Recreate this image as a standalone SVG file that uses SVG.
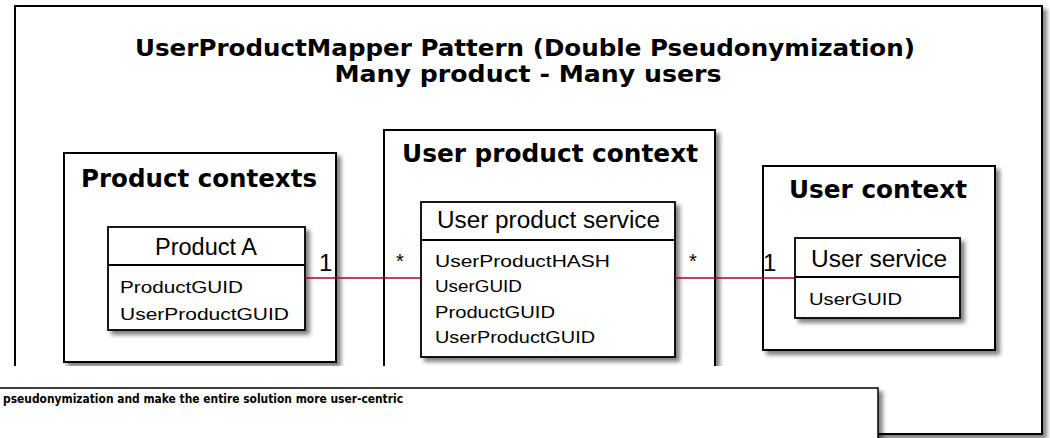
<svg xmlns="http://www.w3.org/2000/svg" width="1050" height="438" viewBox="0 0 1050 438">
<defs>
<filter id="sh" x="-5%" y="-5%" width="115%" height="120%">
<feGaussianBlur in="SourceAlpha" stdDeviation="2.2"/>
<feOffset dx="4" dy="4" result="b"/>
<feComponentTransfer><feFuncA type="linear" slope="0.5"/></feComponentTransfer>
<feMerge><feMergeNode/><feMergeNode in="SourceGraphic"/></feMerge>
</filter>
<style>
.frame{fill:#fff;stroke:#000;stroke-width:2}
.cls{fill:#fff;stroke:#000;stroke-width:1.8}
.sep{stroke:#000;stroke-width:1.8}
.title{font-family:"DejaVu Sans Condensed","DejaVu Sans",sans-serif;font-weight:bold;font-size:23px;fill:#000}
.ctx{font-family:"DejaVu Sans",sans-serif;font-weight:bold;font-size:24px;fill:#000}
.cname{font-family:"Liberation Sans",Arial,sans-serif;font-size:23px;fill:#000}
.attr{font-family:"Liberation Sans",Arial,sans-serif;font-size:17px;fill:#000}
.mult{font-family:"Liberation Sans",Arial,sans-serif;font-size:24px;fill:#000}
.star{font-family:"Liberation Sans",Arial,sans-serif;font-size:20px;fill:#000}
.link{stroke:#A80036;stroke-width:1.3;fill:none}
.note{font-family:"DejaVu Sans Condensed","DejaVu Sans",sans-serif;font-weight:bold;font-size:13px;fill:#000}
</style>
</defs>

<g id="diagram-frame">
<rect class="frame" x="15" y="6" width="1027" height="428" filter="url(#sh)"/>
<text class="title" x="525" y="56" text-anchor="middle" textLength="780" lengthAdjust="spacingAndGlyphs">UserProductMapper Pattern (Double Pseudonymization)</text>
<text class="title" x="528" y="82" text-anchor="middle" textLength="387" lengthAdjust="spacingAndGlyphs">Many product - Many users</text>
</g>

<g id="product-contexts">
<rect class="frame" x="64" y="153" width="272" height="209" filter="url(#sh)"/>
<text class="ctx" x="81" y="187" textLength="236" lengthAdjust="spacingAndGlyphs">Product contexts</text>
</g>

<g id="user-product-context">
<rect class="frame" x="384" y="130" width="331" height="260" filter="url(#sh)"/>
<text class="ctx" x="402" y="162" textLength="296" lengthAdjust="spacingAndGlyphs">User product context</text>
</g>

<g id="user-context">
<rect class="frame" x="763" y="166" width="232" height="184" filter="url(#sh)"/>
<text class="ctx" x="789" y="198" textLength="178" lengthAdjust="spacingAndGlyphs">User context</text>
</g>

<g id="product-a">
<rect class="cls" x="108" y="227" width="197" height="103" filter="url(#sh)"/>
<line class="sep" x1="108" y1="265" x2="305" y2="265"/>
<text class="cname" x="155" y="255" textLength="102" lengthAdjust="spacingAndGlyphs">Product A</text>
<text class="attr" x="120" y="293" textLength="123" lengthAdjust="spacingAndGlyphs">ProductGUID</text>
<text class="attr" x="120" y="320" textLength="169" lengthAdjust="spacingAndGlyphs">UserProductGUID</text>
</g>

<g id="user-product-service">
<rect class="cls" x="421" y="202" width="254" height="155" filter="url(#sh)"/>
<line class="sep" x1="421" y1="240" x2="675" y2="240"/>
<text class="cname" x="437" y="228" textLength="223" lengthAdjust="spacingAndGlyphs">User product service</text>
<text class="attr" x="435" y="267" textLength="175" lengthAdjust="spacingAndGlyphs">UserProductHASH</text>
<text class="attr" x="435" y="292" textLength="87" lengthAdjust="spacingAndGlyphs">UserGUID</text>
<text class="attr" x="435" y="318" textLength="120" lengthAdjust="spacingAndGlyphs">ProductGUID</text>
<text class="attr" x="435" y="343" textLength="160" lengthAdjust="spacingAndGlyphs">UserProductGUID</text>
</g>

<g id="user-service">
<rect class="cls" x="795" y="238" width="165" height="80" filter="url(#sh)"/>
<line class="sep" x1="795" y1="277" x2="960" y2="277"/>
<text class="cname" x="811" y="267" textLength="136" lengthAdjust="spacingAndGlyphs">User service</text>
<text class="attr" x="809" y="305" textLength="93" lengthAdjust="spacingAndGlyphs">UserGUID</text>
</g>

<g id="connectors">
<line class="link" x1="305" y1="278" x2="421" y2="278"/>
<line class="link" x1="675" y1="278" x2="795" y2="278"/>
<text class="mult" x="319" y="271">1</text>
<text class="star" x="396" y="268">*</text>
<text class="star" x="689" y="268">*</text>
<text class="mult" x="763" y="271">1</text>
</g>

<rect x="0" y="366" width="1038" height="22" fill="#fff"/>

<g id="note-panel">
<rect x="-2" y="388" width="880" height="54" fill="#fff" stroke="#000" stroke-width="1.5" filter="url(#sh)"/>
<text class="note" x="3" y="403" textLength="400" lengthAdjust="spacingAndGlyphs">pseudonymization and make the entire solution more user-centric</text>
</g>
</svg>
